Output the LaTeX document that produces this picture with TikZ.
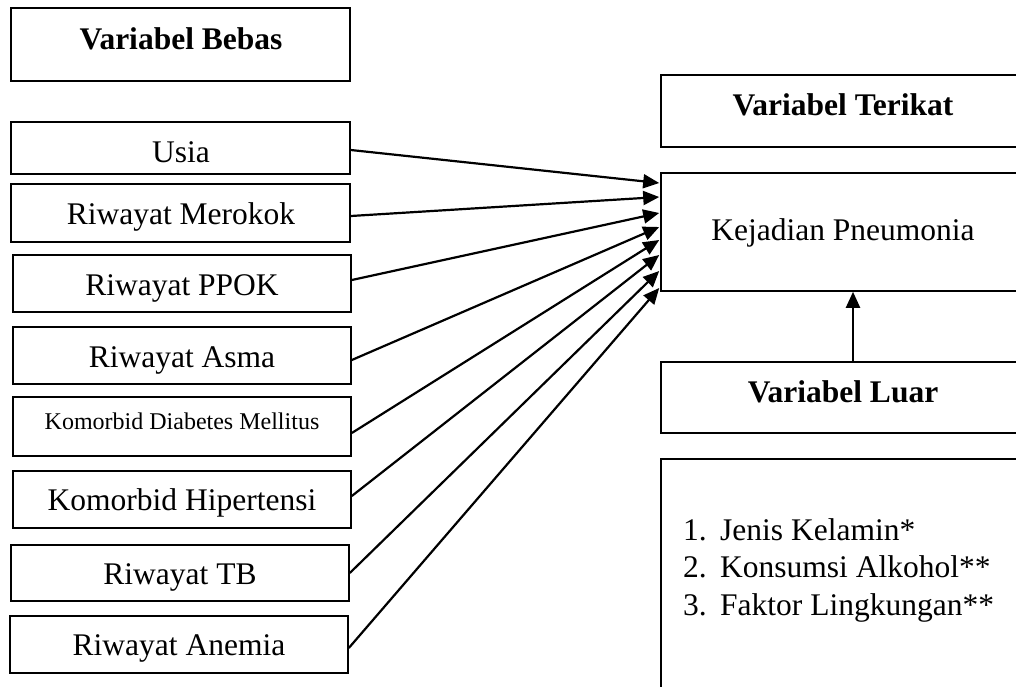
\documentclass[tikz,border=0pt]{standalone}
\usepackage{fontspec}
\setmainfont{Liberation Serif}
\usetikzlibrary{arrows.meta,calc}
\begin{document}
\begin{tikzpicture}[x=1pt,y=-1pt,
  box/.style={draw,line width=1.6pt,rectangle,inner sep=0pt},
  txt/.style={anchor=base,inner sep=0pt,font=\fontsize{31.5}{36}\selectfont},
  btxt/.style={anchor=base,inner sep=0pt,font=\fontsize{31.5}{36}\selectfont\bfseries},
  stxt/.style={anchor=base,inner sep=0pt,font=\fontsize{24}{28}\selectfont},
  ltxt/.style={anchor=base west,inner sep=0pt,font=\fontsize{31.5}{36}\selectfont},
  arr/.style={line width=2.2pt,-{Triangle[length=16pt,width=14pt]}}]
\useasboundingbox (0,0) rectangle (1016,686);
\clip (0,0) rectangle (1016,686);
\fill[white] (0,0) rectangle (1016,686);
% left column
\node[box,minimum width=339pt,minimum height=73pt] (bebas) at (180.5,44.5) {};
\node[btxt] (tbebas) at (181,49) {Variabel Bebas};
\node[box,minimum width=339pt,minimum height=52pt] (usia) at (180.5,148) {};
\node[txt] (tusia) at (181,162) {Usia};
\node[box,minimum width=339pt,minimum height=58pt] (merokok) at (180.5,213) {};
\node[txt] (tmerokok) at (181,224) {Riwayat Merokok};
\node[box,minimum width=338pt,minimum height=57pt] (ppok) at (182,283.5) {};
\node[txt] (tppok) at (182,295) {Riwayat PPOK};
\node[box,minimum width=338pt,minimum height=57pt] (asma) at (182,355.5) {};
\node[txt] (tasma) at (182,367) {Riwayat Asma};
\node[box,minimum width=338pt,minimum height=59pt] (dm) at (182,426.5) {};
\node[stxt] (tdm) at (182,429) {Komorbid Diabetes Mellitus};
\node[box,minimum width=338pt,minimum height=57pt] (hip) at (182,499.5) {};
\node[txt] (thip) at (182,510) {Komorbid Hipertensi};
\node[box,minimum width=338pt,minimum height=56pt] (tb) at (180,573) {};
\node[txt] (ttb) at (180,584) {Riwayat TB};
\node[box,minimum width=338pt,minimum height=57pt] (anemia) at (179,644.5) {};
\node[txt] (tanemia) at (179,655) {Riwayat Anemia};
% right column
\node[box,minimum width=364pt,minimum height=72pt] (terikat) at (843,111) {};
\node[btxt] (tterikat) at (843,115) {Variabel Terikat};
\node[box,minimum width=364pt,minimum height=118pt] (kej) at (843,232) {};
\node[txt] (tkej) at (843,240) {Kejadian Pneumonia};
\node[box,minimum width=364pt,minimum height=71pt] (luar) at (843,397.5) {};
\node[btxt] (tluar) at (843,402) {Variabel Luar};
\node[box,minimum width=364pt,minimum height=261pt] (list) at (843,589.5) {};
\node[ltxt] (n1) at (683,540) {1.};
\node[ltxt] (l1) at (720,540) {Jenis Kelamin*};
\node[ltxt] (n2) at (683,577.5) {2.};
\node[ltxt] (l2) at (720,577.5) {Konsumsi Alkohol**};
\node[ltxt] (n3) at (683,615) {3.};
\node[ltxt] (l3) at (720,615) {Faktor Lingkungan**};
% arrows
\draw[arr] ($(usia.east)+(0,2)$) -- ($(kej.west)+(-1,-49)$);
\draw[arr] ($(merokok.east)+(0,3)$) -- ($(kej.west)+(-1,-35)$);
\draw[arr] ($(ppok.east)+(0,-3.5)$) -- ($(kej.west)+(-1,-19)$);
\draw[arr] ($(asma.east)+(0,4.5)$) -- ($(kej.west)+(-1,-5)$);
\draw[arr] ($(dm.east)+(0,6.5)$) -- ($(kej.west)+(-1,8)$);
\draw[arr] ($(hip.east)+(0,-3.5)$) -- ($(kej.west)+(-1,23)$);
\draw[arr] ($(tb.east)+(0,0)$) -- ($(kej.west)+(-1,39)$);
\draw[arr] ($(anemia.east)+(0,3.5)$) -- ($(kej.west)+(-1,56)$);
\draw[arr] ($(luar.north)+(10,0)$) -- ($(kej.south)+(10,0)$);
\end{tikzpicture}
\end{document}
